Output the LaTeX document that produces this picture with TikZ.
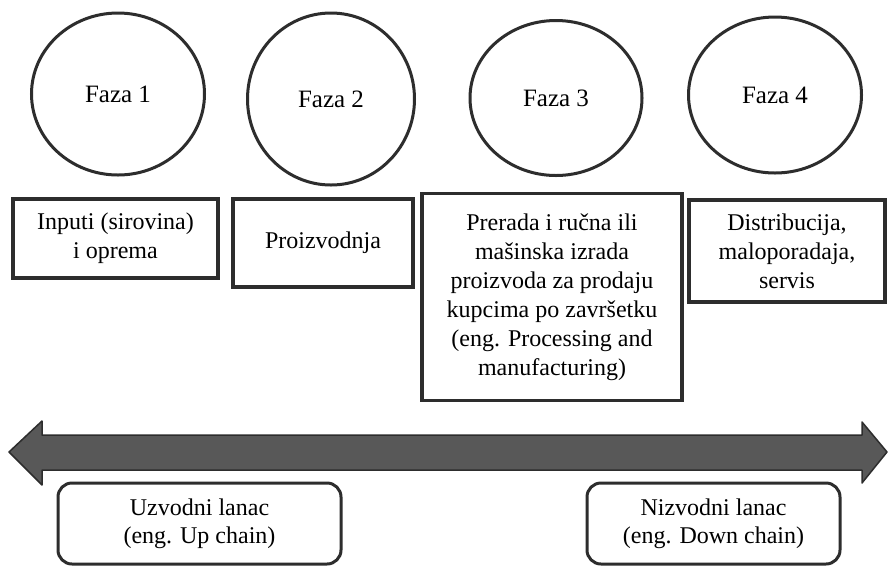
\documentclass[tikz,border=0pt]{standalone}
\usepackage{fontspec}
\setmainfont{Liberation Serif}
\usetikzlibrary{shapes.geometric}
\definecolor{rub}{RGB}{45,45,45}
\definecolor{strelica}{RGB}{88,88,88}
\begin{document}
\begin{tikzpicture}[x=1pt, y=-1pt,
  every node/.style={inner sep=2pt},
  faza/.style={ellipse, draw=rub, line width=3pt, fill=white,
               font=\fontsize{25}{29}\selectfont},
  opis/.style={rectangle, draw=rub, line width=3.5pt, fill=white,
               align=center, font=\fontsize{24}{29}\selectfont},
  lanac/.style={rectangle, rounded corners=14pt, draw=rub, line width=3pt,
                fill=white, align=center, font=\fontsize{24}{28}\selectfont}]
\useasboundingbox[fill=white] (0,0) rectangle (889,566);
% faze
\node[faza, minimum width=173pt, minimum height=162pt] (f1) at (118,94) {Faza 1};
\node[faza, minimum width=167pt, minimum height=172pt] (f2) at (331,99) {Faza 2};
\node[faza, minimum width=172pt, minimum height=155pt] (f3) at (556,98) {Faza 3};
\node[faza, minimum width=173pt, minimum height=156pt] (f4) at (775,95) {Faza 4};
% opisi faza
\node[opis, minimum width=205pt, minimum height=79pt] (o1) at (115.5,238.5)
  {Inputi (sirovina)\\i oprema};
\node[opis, minimum width=180pt, minimum height=88pt] (o2) at (323,243)
  {Proizvodnja};
\node[opis, minimum width=260pt, minimum height=207pt] (o3) at (552,297)
  {Prerada i ručna ili\\mašinska izrada\\proizvoda za prodaju\\kupcima po završetku\\(eng. Processing and\\manufacturing)};
\node[opis, minimum width=196pt, minimum height=102pt] (o4) at (787,251)
  {Distribucija,\\maloporadaja,\\servis};
% strelica lanca
\draw[draw=rub, fill=strelica, line width=1.5pt, line join=round]
  (9,452) -- (42,421) -- (42,435) -- (862,435) -- (862,422) -- (887,452)
  -- (862,483) -- (862,470) -- (42,470) -- (42,485) -- cycle;
% lanci
\node[lanac, minimum width=283pt, minimum height=81pt] (uzvodni) at (199.5,523.5)
  {Uzvodni lanac\\(eng. Up chain)};
\node[lanac, minimum width=253pt, minimum height=81pt] (nizvodni) at (713.5,523.5)
  {Nizvodni lanac\\(eng. Down chain)};
\end{tikzpicture}
\end{document}
